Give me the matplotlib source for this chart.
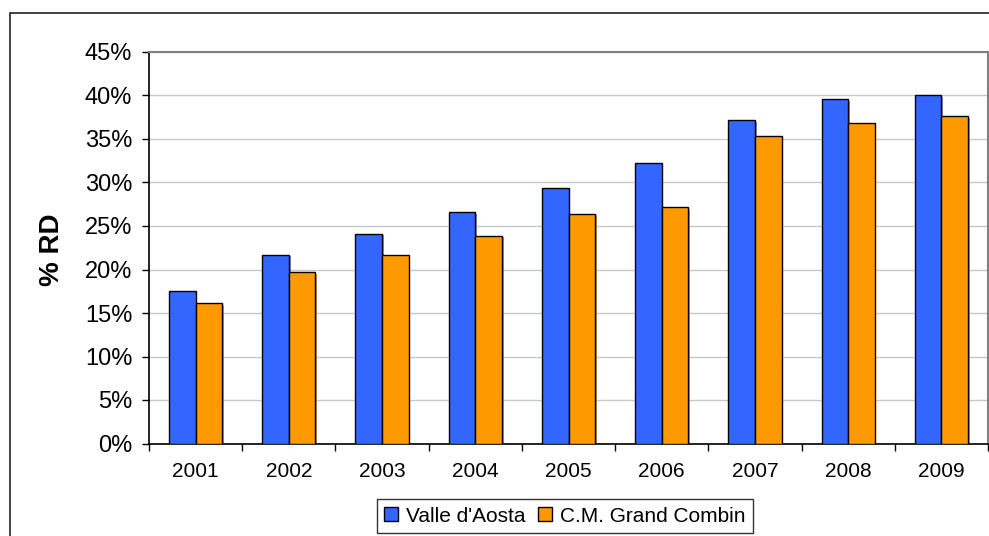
#!/usr/bin/env python3
import matplotlib

matplotlib.use("Agg")
import matplotlib.pyplot as plt
import matplotlib.patheffects as pe
import numpy as np
from matplotlib.patches import Rectangle
from matplotlib.ticker import FixedLocator, PercentFormatter

years = ["2001", "2002", "2003", "2004", "2005", "2006", "2007", "2008", "2009"]
valle_aosta = [17.5, 21.7, 24.1, 26.6, 29.4, 32.2, 37.2, 39.6, 40.0]
grand_combin = [16.1, 19.7, 21.7, 23.9, 26.4, 27.2, 35.4, 36.8, 37.6]
series_names = ["Valle d'Aosta", "C.M. Grand Combin"]

plt.rcParams["font.family"] = ["Liberation Sans", "DejaVu Sans"]

W, H = 989, 536
fig = plt.figure(figsize=(W / 100, H / 100), dpi=100)

# outer chart frame, runs off the right and bottom edges
fig.patches.append(
    Rectangle((10 / W, -0.1), 1.2, 1.1 - 13 / H, transform=fig.transFigure,
              fill=False, edgecolor="#222222", linewidth=1.2)
)

ax = fig.add_axes([149 / W, (H - 443.5) / H, 839 / W, (443.5 - 52) / H])

x = np.arange(len(years))
w = 1 / 3.5
shadow = [pe.SimplePatchShadow(offset=(1.2, -1.2), alpha=0.45), pe.Normal()]
b1 = ax.bar(x - w / 2, valle_aosta, w, color="#3366FF", edgecolor="black",
            linewidth=1.0, label=series_names[0], zorder=3)
b2 = ax.bar(x + w / 2, grand_combin, w, color="#FF9900", edgecolor="black",
            linewidth=1.0, label=series_names[1], zorder=3)
for bar in list(b1) + list(b2):
    bar.set_path_effects(shadow)

ax.set_xlim(-0.5, len(years) - 0.5)
ax.set_ylim(0, 45)
ax.set_yticks(np.arange(0, 46, 5))
ax.yaxis.set_major_formatter(PercentFormatter(decimals=0))
ax.grid(axis="y", color="#C8C8C8", linewidth=1.0, zorder=0)
ax.set_axisbelow(True)

ax.set_xticks(x)
ax.set_xticklabels(years)
ax.xaxis.set_minor_locator(FixedLocator(np.arange(-0.5, len(years), 1.0)))
ax.tick_params(axis="x", which="major", length=0, pad=13, labelsize=15)
ax.tick_params(axis="x", which="minor", length=5, width=1.0, direction="out")
ax.tick_params(axis="y", length=5, width=1.0, pad=7, labelsize=17)

for side in ("left", "bottom"):
    ax.spines[side].set_color("black")
    ax.spines[side].set_linewidth(1.2)
for side in ("top", "right"):
    ax.spines[side].set_color("#808080")
    ax.spines[side].set_linewidth(1.5)

fig.text(52 / W, 1 - 250 / H, "% RD", rotation=90, ha="center", va="center",
         fontsize=20, fontweight="bold")

leg = fig.legend(handles=[b1, b2], loc="center", ncol=2,
                 bbox_to_anchor=(565 / W, 1 - 516 / H), fontsize=15,
                 frameon=True, fancybox=False, edgecolor="black",
                 handlelength=0.65, handleheight=0.65, handletextpad=0.4,
                 columnspacing=0.6, borderpad=0.35, borderaxespad=0)
leg.get_frame().set_linewidth(1.0)
for h in leg.legend_handles:
    h.set_path_effects([])

fig.savefig("out.png", dpi=100)
